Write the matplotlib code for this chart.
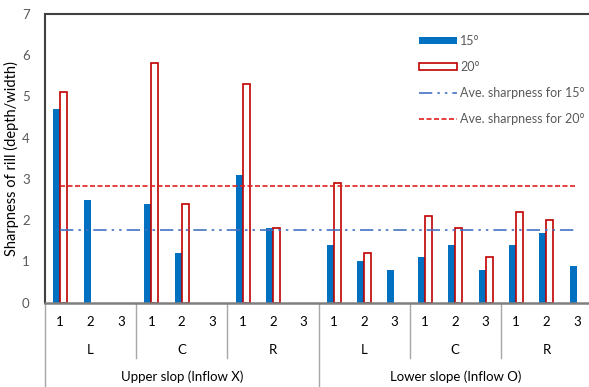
import matplotlib
matplotlib.use('Agg')
import matplotlib.pyplot as plt
import numpy as np

plt.rcParams['font.family'] = ['Lato', 'DejaVu Sans']

# sharpness per rill (depth/width), order: upper L/C/R, lower L/C/R, rills 1-3
slopes = ['Upper slop (Inflow X)', 'Lower slope (Inflow O)']
positions = ['L', 'C', 'R', 'L', 'C', 'R']
rills = ['1', '2', '3'] * 6
sharp_15 = [4.7, 2.5, 0, 2.4, 1.2, 0, 3.1, 1.8, 0,
            1.4, 1.0, 0.8, 1.1, 1.4, 0.8, 1.4, 1.7, 0.9]
sharp_20 = [5.1, 0, 0, 5.8, 2.4, 0, 5.3, 1.8, 0,
            2.9, 1.2, 0, 2.1, 1.8, 1.1, 2.2, 2.0, 0]
avg_15 = 1.76
avg_20 = 2.82

blue = '#0070C0'
red = '#C00000'
grey = '#595959'

fig = plt.figure(figsize=(5.89, 3.87), dpi=100)
ax = fig.add_axes([45 / 589, 1 - 302.7 / 387, 547 / 589, 288.7 / 387])

x = np.arange(len(rills))
w = 0.23
b15 = [v if v > 0 else np.nan for v in sharp_15]
b20 = [v if v > 0 else np.nan for v in sharp_20]
h1 = ax.bar(x - w / 2, b15, w, color=blue, label='15°', zorder=2)
h2 = ax.bar(x + w / 2, b20, w, facecolor='white', edgecolor=red, linewidth=1.2,
            label='20°', zorder=2)
h3, = ax.plot(x, [avg_15] * len(x), color='#4472C4', lw=1.2,
              dashes=(8, 3, 1.5, 3, 1.5, 3), label='Ave. sharpness for 15°', zorder=3)
h4, = ax.plot(x, [avg_20] * len(x), color='#E02020', lw=1.2,
              dashes=(3, 1.5), label='Ave. sharpness for 20°', zorder=3)

ax.set_xlim(-0.5, len(x) - 0.5)
ax.set_ylim(0, 7)
ax.set_yticks(range(8))
ax.tick_params(axis='y', length=0, labelsize=9.5, labelcolor=grey, pad=11)
ax.set_xticks([])
ax.set_ylabel('Sharpness of rill (depth/width)', fontsize=10.5, color='black',
              labelpad=2)

for side in ['left', 'top', 'right']:
    ax.spines[side].set_color('#404040')
    ax.spines[side].set_linewidth(1.5)
ax.spines['bottom'].set_color('#7f7f7f')
ax.spines['bottom'].set_linewidth(1.8)

# multi-level category labels under the axis
tr = ax.get_xaxis_transform()
for i, r in enumerate(rills):
    ax.text(i, -0.066, r, transform=tr, ha='center', va='center',
            fontsize=9.5, color='black')
for g, p in enumerate(positions):
    ax.text(g * 3 + 1, -0.163, p, transform=tr, ha='center', va='center',
            fontsize=9.5, color='black')
for s, name in enumerate(slopes):
    ax.text(s * 9 + 4, -0.257, name, transform=tr, ha='center', va='center',
            fontsize=9.5, color='black')

for g in range(7):
    xs = g * 3 - 0.5
    y_end = -0.3 if g % 3 == 0 else -0.19
    ax.plot([xs, xs], [0, y_end], transform=tr, color='#a6a6a6', lw=1,
            clip_on=False)

leg = ax.legend(handles=[h1, h2, h3, h4], loc='upper left',
                bbox_to_anchor=(419 / 589, 1 - 35 / 387),
                bbox_transform=fig.transFigure, frameon=False, fontsize=9,
                handlelength=3.0, handleheight=0.5, handletextpad=0.3,
                labelspacing=1.12, borderpad=0, borderaxespad=0)
for t in leg.get_texts():
    t.set_color(grey)

fig.savefig('out.png', dpi=100)
